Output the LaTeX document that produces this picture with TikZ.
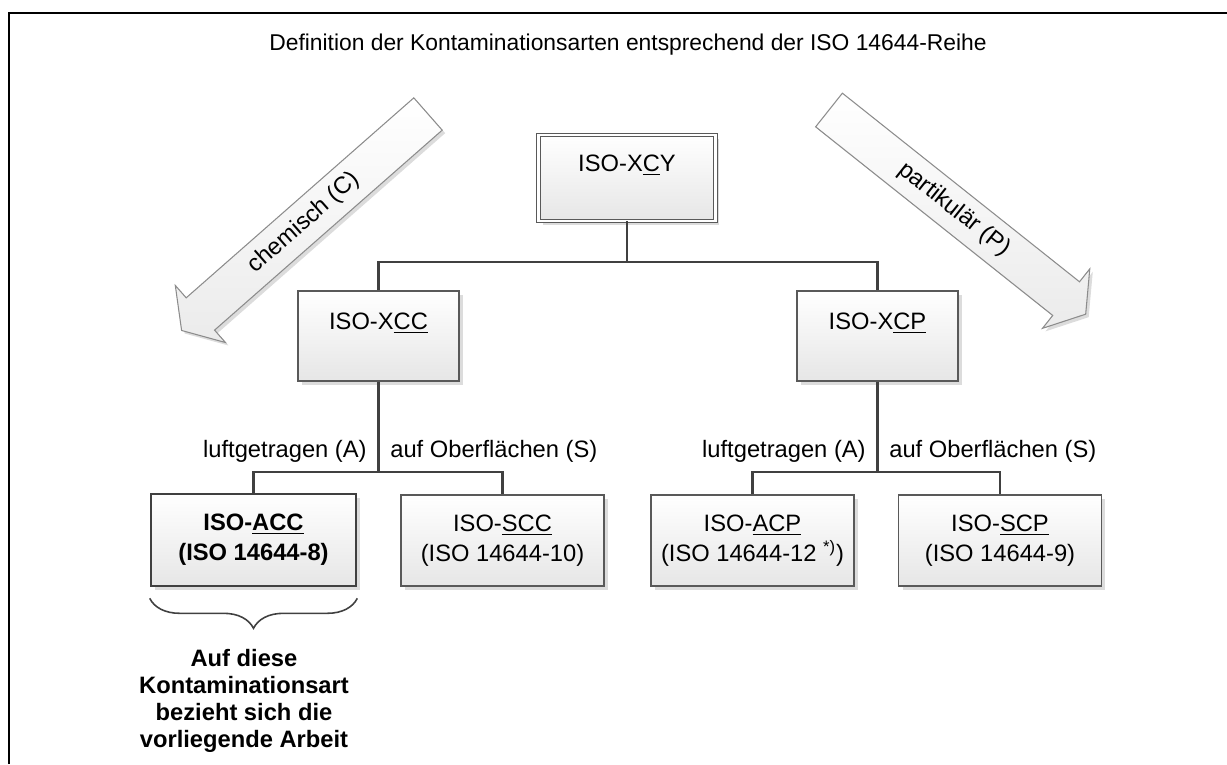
\documentclass[tikz,border=0pt]{standalone}
\usepackage{fontspec}
\setmainfont{Liberation Sans}
\usetikzlibrary{shadows,decorations.pathreplacing}
\definecolor{linegray}{HTML}{404040}
\definecolor{boxgray}{HTML}{595959}
\definecolor{shadegray}{HTML}{E6E6E6}
\definecolor{shadowgray}{HTML}{DCDCDC}
\definecolor{arrowgray}{HTML}{8C8C8C}
\newcommand{\txt}{\fontsize{13.5}{17}\selectfont}

\tikzset{
  box/.style={draw=boxgray, line width=0.8pt, top color=white, bottom color=shadegray,
    inner sep=0pt, align=center, font=\txt,
    drop shadow={shadow xshift=0.08cm, shadow yshift=-0.08cm, fill=shadowgray, opacity=1}},
  smallbox/.style={box, minimum width=3.22cm, minimum height=1.8cm},
  bigbox/.style={box, minimum width=4.06cm, minimum height=1.82cm},
  conn/.style={draw=linegray, line width=1.4pt},
  lbl/.style={font=\txt, inner sep=0pt},
  arrowbody/.style={draw=arrowgray, line width=0.6pt, top color=white, bottom color=shadegray!80},
}

\begin{document}
\begin{tikzpicture}[x=0.02cm, y=-0.02cm]
    \useasboundingbox (0,0) rectangle (1227,764);

    % frame
    \draw[line width=0.06cm] (9,764) -- (9,13) -- (1227,13);

    \node[font=\fontsize{13}{16}\selectfont] (title) at (628,45)
    {Definition der Kontaminationsarten entsprechend der ISO 14644-Reihe};

    % chemisch (C)
    \begin{scope}[shift={(431,117)}, rotate=221.3]
        \fill[shadowgray]
        (0,-21.5) -- (303,-21.5) -- (303,-38) -- (328,0) -- (303,38) -- (303,21.5) -- (0,21.5) -- cycle;
    \end{scope}
    \begin{scope}[shift={(428,114)}, rotate=221.3]
        \draw[arrowbody]
        (0,-21.5) -- (303,-21.5) -- (303,-38) -- (328,0) -- (303,38) -- (303,21.5) -- (0,21.5) -- cycle;
        \node[lbl, rotate=41.3] (chem) at (165,0) {chemisch (C)};
    \end{scope}

    % partikulaer (P)
    \begin{scope}[shift={(832,113)}, rotate=-38.5]
        \fill[shadowgray]
        (0,-21.5) -- (303,-21.5) -- (303,-38) -- (328,0) -- (303,38) -- (303,21.5) -- (0,21.5) -- cycle;
    \end{scope}
    \begin{scope}[shift={(829,110)}, rotate=-38.5]
        \draw[arrowbody]
        (0,-21.5) -- (303,-21.5) -- (303,-38) -- (328,0) -- (303,38) -- (303,21.5) -- (0,21.5) -- cycle;
        \node[lbl, rotate=-38.5] (part) at (160,0) {partikulär (P)};
    \end{scope}

    % boxes
    \node[box, double=white, double distance=0.046cm, line width=0.55pt,
        minimum width=3.54cm, minimum height=1.72cm] (xcy) at (627,178) {ISO-X\underline{C}Y\\\mbox{}};

    \node[smallbox] (xcc) at (378.5,336) {ISO-X\underline{CC}\\\mbox{}};
    \node[smallbox] (xcp) at (877.5,336) {ISO-X\underline{CP}\\\mbox{}};

    \node[bigbox, draw=linegray, line width=1.5pt, minimum width=4.1cm, minimum height=1.84cm,
        font=\bfseries\txt] (acc) at (253.5,540) {ISO-\underline{ACC}\\(ISO 14644-8)};
    \node[bigbox] (scc) at (502.5,540.5) {ISO-\underline{SCC}\\(ISO 14644-10)};
    \node[bigbox] (acp) at (752.5,540.5) {ISO-\underline{ACP}\\(ISO 14644-12 \textsuperscript{*)})};
    \node[bigbox] (scp) at (1000,540.5) {ISO-\underline{SCP}\\(ISO 14644-9)};

    % connectors
    \coordinate (j1) at (xcy.south |- 0,262);
    \coordinate (j2) at (xcc.south |- 0,472);
    \coordinate (j3) at (xcp.south |- 0,472);
    \draw[conn] (xcy.south) -- (j1);
    \draw[conn] (xcc.north) |- (j1) -| (xcp.north);
    \draw[conn] (xcc.south) -- (j2);
    \draw[conn] (acc.north) |- (j2) -| (scc.north);
    \draw[conn] (xcp.south) -- (j3);
    \draw[conn] (acp.north) |- (j3) -| (scp.north);

    \node[lbl, anchor=base east] (luftc) at (367,457) {luftgetragen (A)};
    \node[lbl, anchor=base west] (oberc) at (390,457) {auf Oberflächen (S)};
    \node[lbl, anchor=base east] (luftp) at (866,457) {luftgetragen (A)};
    \node[lbl, anchor=base west] (oberp) at (889,457) {auf Oberflächen (S)};

    \draw[draw=linegray, line width=0.9pt, decoration={brace, mirror, amplitude=0.6cm}, decorate]
    ([yshift=-0.22cm]acc.south west) -- ([yshift=-0.22cm]acc.south east);

    \node[font=\bfseries\fontsize{13.5}{15.3}\selectfont, align=center] (note) at (244,701)
    {Auf diese\\Kontaminationsart\\bezieht sich die\\vorliegende Arbeit};

\end{tikzpicture}
\end{document}
